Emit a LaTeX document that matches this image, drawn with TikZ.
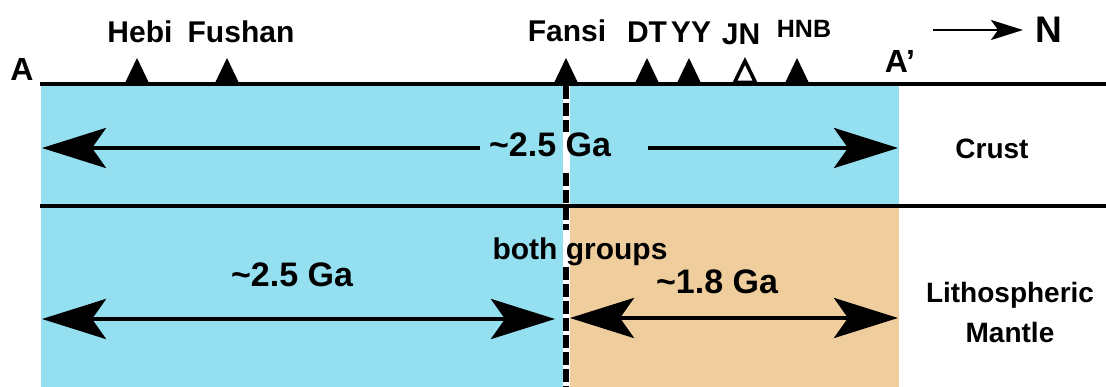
\documentclass[tikz,border=0pt]{standalone}
\usepackage{fontspec}
\setmainfont{Liberation Sans}
\usetikzlibrary{arrows.meta}
\definecolor{crustblue}{RGB}{148,224,240}
\definecolor{mantletan}{RGB}{240,205,157}
\tikzset{
  lab/.style={font=\fontsize{30}{36}\selectfont\bfseries, inner sep=0pt, anchor=base},
  smalllab/.style={font=\fontsize{25}{30}\selectfont\bfseries, inner sep=0pt, anchor=base},
  agelab/.style={font=\fontsize{34}{40}\selectfont\bfseries, inner sep=0pt, anchor=base},
  sidelab/.style={font=\fontsize{28}{34}\selectfont\bfseries, inner sep=0pt, anchor=base},
  bighead/.tip={Stealth[length=64pt, width=40pt, inset=14pt]},
  bigarrow/.style={line width=4.5pt, -bighead},
  bigdouble/.style={line width=4.5pt, bighead-bighead},
  hline/.style={line width=3.5pt},
  station/.pic={\fill[black] (-12.5,0) -- (0,-26) -- (12.5,0) -- cycle;},
  hollowstation/.pic={\filldraw[fill=white, draw=black, line width=3.5pt, line join=miter] (-10.5,-1.5) -- (0,-23) -- (10.5,-1.5) -- cycle;},
}
\begin{document}
\begin{tikzpicture}[x=1pt, y=-1pt]
\path[use as bounding box] (0,0) rectangle (1106,387);
% regions
\fill[crustblue] (41,84) rectangle (899,387);
\fill[mantletan] (569,206) rectangle (899,387);
% white strip behind the dashed line
\fill[white] (563,86) rectangle (569.5,387);
% horizontal lines
\coordinate (topL) at (40,84);
\coordinate (topR) at (1106,84);
\coordinate (midL) at (40,206);
\coordinate (midR) at (1106,206);
\draw[hline] (topL) -- (topR);
\draw[hline] (midL) -- (midR);
% dashed boundary (interrupted behind texts)
\coordinate (d0) at (566,86);
\coordinate (d1) at (566,132);
\coordinate (d2) at (566,173);
\coordinate (d3) at (566,230);
\coordinate (d4) at (566,267);
\coordinate (d5) at (566,387);
\draw[line width=5.5pt, dash pattern=on 13pt off 4pt] (d0) -- (d1);
\draw[line width=5.5pt, dash pattern=on 13pt off 4pt] (d2) -- (d3);
\draw[line width=5.5pt, dash pattern=on 13pt off 4pt] (d4) -- (d5);
% stations
\pic at (137,84) {station};
\pic at (227,84) {station};
\pic at (566,84) {station};
\pic at (647,84) {station};
\pic at (689,84) {station};
\pic at (745,84) {hollowstation};
\pic at (797,84) {station};
% station labels
\node[lab] (hebi) at (140,43) {Hebi};
\node[lab] (fushan) at (241,43) {Fushan};
\node[lab] (fansi) at (567,42) {Fansi};
\node[lab] (dt) at (647,43) {DT};
\node[lab] (yy) at (691,43) {YY};
\node[lab] (jn) at (741,45) {JN};
\node[smalllab] (hnb) at (804,38) {HNB};
% section end labels
\node[font=\fontsize{32}{38}\selectfont\bfseries, inner sep=0pt, anchor=base] (a) at (22,81) {A};
\node[font=\fontsize{32}{38}\selectfont\bfseries, inner sep=0pt, anchor=base] (ap) at (900,73) {A’};
% north arrow
\coordinate (n0) at (933,30);
\coordinate (n1) at (1023,30);
\draw[line width=2pt, -{Stealth[length=32pt, width=20pt, inset=7pt]}] (n0) -- (n1);
\node[font=\fontsize{37}{44}\selectfont\bfseries, inner sep=0pt, anchor=base] (north) at (1049,43) {N};
% crust ages
\node[agelab] (crustage) at (550,157) {\textasciitilde2.5 Ga};
\coordinate (c0) at (42,148);
\coordinate (c1) at (480,148);
\coordinate (c2) at (648,148);
\coordinate (c3) at (898,148);
\draw[bigarrow] (c1) -- (c0);
\draw[bigarrow] (c2) -- (c3);
% mantle ages
\node[agelab] (mantleold) at (292,287) {\textasciitilde2.5 Ga};
\node[agelab] (mantleyoung) at (717,294) {\textasciitilde1.8 Ga};
\node[lab] (both) at (580,260) {both groups};
\coordinate (m0) at (42,319);
\coordinate (m1) at (555,319);
\coordinate (m2) at (570,318);
\coordinate (m3) at (898,318);
\draw[bigdouble] (m0) -- (m1);
\draw[bigdouble] (m2) -- (m3);
% layer names
\node[sidelab] (crust) at (992,159) {Crust};
\node[sidelab] (litho) at (1010,303) {Lithospheric};
\node[sidelab] (mantle) at (1010,343) {Mantle};
\end{tikzpicture}
\end{document}
